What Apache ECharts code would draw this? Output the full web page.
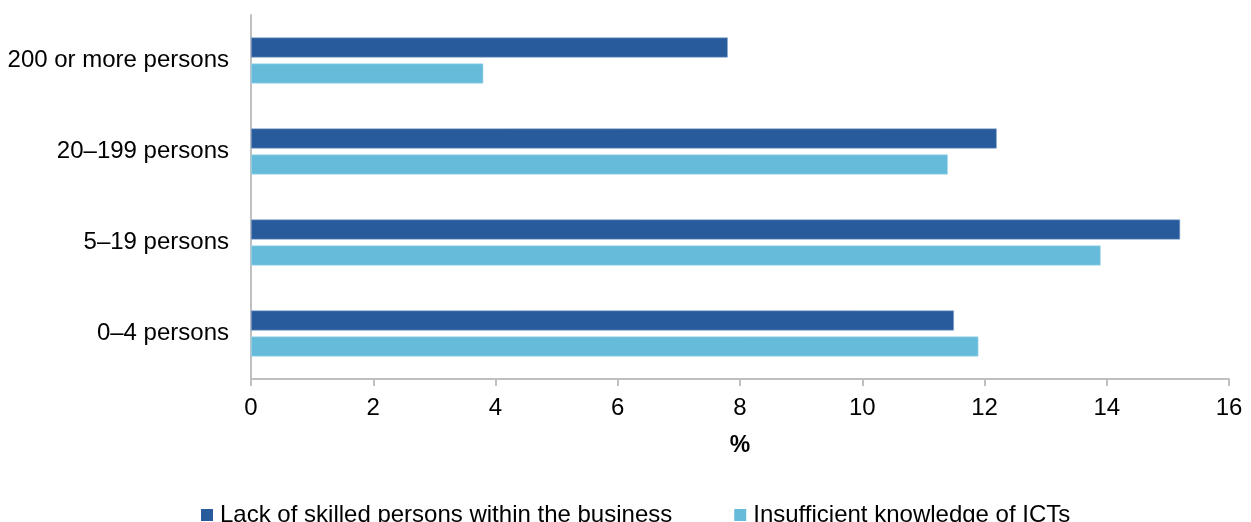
<!DOCTYPE html>
<html>
<head>
<meta charset="utf-8">
<script src="https://cdn.jsdelivr.net/npm/echarts@6/dist/echarts.min.js"></script>
<style>
html,body{margin:0;padding:0;background:#fff;}
#chart{width:1251px;height:522px;}
</style>
</head>
<body>
<div id="chart"></div>
<script>
var categories = ['0–4 persons', '5–19 persons', '20–199 persons', '200 or more persons'];
var seriesNames = ['Lack of skilled persons within the business', 'Insufficient knowledge of ICTs'];
var lackSkilled = [11.5, 15.2, 12.2, 7.8];
var insufficientKnowledge = [11.9, 13.9, 11.4, 3.8];
var xTicks = { min: 0, max: 16, interval: 2 };

var FONT = '"Liberation Sans", Arial, sans-serif';
var chart = echarts.init(document.getElementById('chart'));
chart.setOption({
  animation: false,
  backgroundColor: '#ffffff',
  textStyle: { fontFamily: FONT, color: '#000' },
  grid: { left: 251, right: 22, top: 15, bottom: 143, containLabel: false },
  legend: {
    data: [seriesNames[0], seriesNames[1]],
    left: 201,
    top: 503,
    padding: 0,
    icon: 'rect',
    itemWidth: 12,
    itemHeight: 12,
    itemGap: 62,
    itemStyle: { borderWidth: 0 },
    textStyle: { fontFamily: FONT, fontSize: 24, color: '#000', padding: [0, 0, 0, 2] }
  },
  xAxis: {
    type: 'value',
    min: xTicks.min,
    max: xTicks.max,
    interval: xTicks.interval,
    name: '%',
    nameLocation: 'middle',
    nameGap: 55,
    nameTextStyle: { fontFamily: FONT, fontSize: 23, fontWeight: 'bold', color: '#000' },
    axisLine: { show: true, lineStyle: { color: '#c0c0c0', width: 2 } },
    axisTick: { show: true, length: 7, lineStyle: { color: '#c0c0c0', width: 2 } },
    axisLabel: { fontFamily: FONT, fontSize: 24, color: '#000', margin: 17 },
    splitLine: { show: false }
  },
  yAxis: {
    type: 'category',
    data: categories,
    axisLine: { show: true, lineStyle: { color: '#c0c0c0', width: 2 } },
    axisTick: { show: false },
    axisLabel: { fontFamily: FONT, fontSize: 24, color: '#000', margin: 22 }
  },
  series: [
    {
      name: seriesNames[0],
      type: 'bar',
      data: lackSkilled,
      barWidth: 20,
      barGap: '30%',
      itemStyle: { color: '#275b9b', borderColor: '#8aa6cc', borderWidth: 0.6 }
    },
    {
      name: seriesNames[1],
      type: 'bar',
      data: insufficientKnowledge,
      barWidth: 20,
      barGap: '30%',
      itemStyle: { color: '#65bbd9', borderColor: '#a9d9ec', borderWidth: 0.6 }
    }
  ]
});
</script>
</body>
</html>
